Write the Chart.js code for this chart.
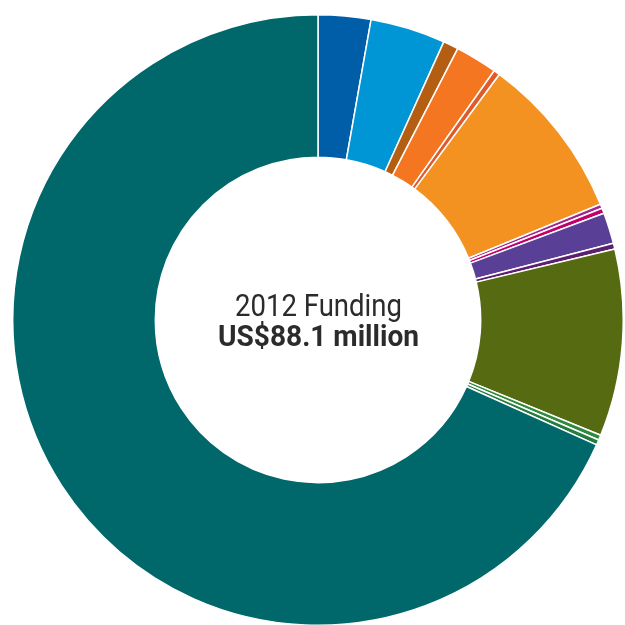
<!DOCTYPE html>
<html>
<head>
<meta charset="utf-8">
<script src="https://cdn.jsdelivr.net/npm/chart.js@4"></script>
<style>
  html, body { margin: 0; padding: 0; background: #ffffff; width: 625px; height: 625px; overflow: hidden; }
  #wrap { position: absolute; left: 12px; top: 14px; width: 612px; height: 612px; }
</style>
</head>
<body>
<div id="wrap"><canvas id="chart" width="612" height="612"></canvas></div>
<script>
// Funding by programme area, US$ million (total 88.1)
const categories = [
  'Area 1', 'Area 2', 'Area 3', 'Area 4', 'Area 5', 'Area 6', 'Area 7',
  'Area 8', 'Area 9', 'Area 10', 'Area 11', 'Area 12', 'Area 13', 'Area 14'
];
const fundingMillions = [
  2.45, 3.50, 0.71, 1.96, 0.29, 7.64, 0.20,
  0.25, 1.44, 0.27, 8.71, 0.24, 0.24, 60.10
];
const sliceColors = [
  '#005da8', '#0096d5', '#b35e12', '#f47621', '#e05a2a', '#f39220', '#a3238f',
  '#c1006c', '#5a3f97', '#5d1f6f', '#566a12', '#2f8a3e', '#267c3d', '#00686a'
];
const titleLine = '2012 Funding';
const totalLine = 'US$88.1 million';

// Draws a line of condensed text by narrowing a regular face to a set width
function condensedText(ctx, text, x, y, font, width) {
  ctx.save();
  ctx.font = font;
  const w = ctx.measureText(text).width;
  const sx = width / w;
  ctx.translate(x, y);
  ctx.scale(sx, 1);
  ctx.textAlign = 'center';
  ctx.textBaseline = 'alphabetic';
  ctx.fillText(text, 0, 0);
  ctx.restore();
}

const centerText = {
  id: 'centerText',
  afterDraw(chart) {
    const arc = chart.getDatasetMeta(0).data[0];
    const { x, y } = arc;
    const ctx = chart.ctx;
    ctx.save();
    ctx.fillStyle = '#2b2b2b';
    condensedText(ctx, titleLine, x + 0.5, y - 4, '32px Roboto, "Liberation Sans", sans-serif', 167);
    condensedText(ctx, totalLine, x + 0.5, y + 26, 'bold 29.5px Roboto, "Liberation Sans", sans-serif', 201);
    ctx.restore();
  }
};

new Chart(document.getElementById('chart'), {
  type: 'doughnut',
  data: {
    labels: categories,
    datasets: [{
      data: fundingMillions,
      backgroundColor: sliceColors,
      borderColor: '#ffffff',
      borderWidth: 1.5,
      hoverOffset: 0,
      offset: 0
    }]
  },
  options: {
    responsive: false,
    animation: false,
    cutout: '53.3%',
    layout: { padding: 0 },
    plugins: {
      legend: { display: false },
      tooltip: { enabled: false }
    },
    events: []
  },
  plugins: [centerText]
});
</script>
</body>
</html>
